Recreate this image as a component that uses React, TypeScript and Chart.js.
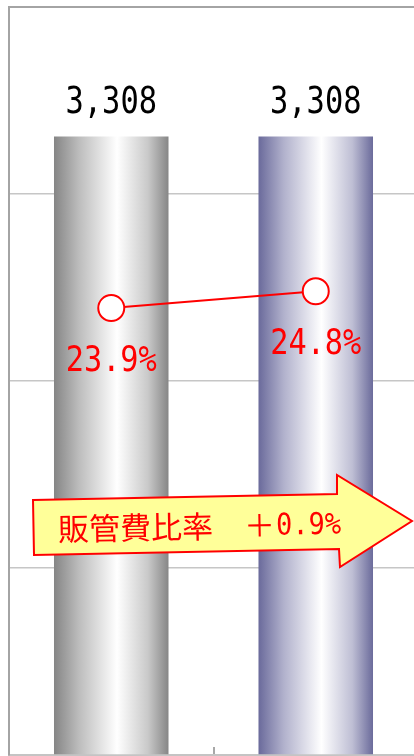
import React, { useEffect, useRef } from "react";
import { Chart, registerables } from "chart.js";

Chart.register(...registerables);

// ---- data ----
const categories = ["前期", "当期"];
const salesValues = [3308, 3308];
const ratioValues = [23.9, 24.8];
const salesAxis = { min: 0, max: 4000, step: 1000 };
const ratioAxis = { min: 0, max: 40 };
const arrowTitle = "販管費比率";

// ---- styles ----
const BAR_PCT = 0.56;
const grayStops: [number, string][] = [
  [0, "#858585"],
  [0.22, "#bdbdbd"],
  [0.55, "#ffffff"],
  [0.82, "#c9c9c9"],
  [1, "#868686"],
];
const blueStops: [number, string][] = [
  [0, "#6a6a9b"],
  [0.22, "#b1b1cc"],
  [0.55, "#ffffff"],
  [0.82, "#bebed4"],
  [1, "#6b6b9b"],
];
const barStops = [grayStops, blueStops];
const MONO = '"DejaVu Sans Mono", "Liberation Mono", monospace';

const labelPlugin = {
  id: "labelsAndArrow",
  afterDatasetsDraw(chart: any) {
    const ctx = chart.ctx as CanvasRenderingContext2D;
    // arrow annotation
    const pts = [
      [33, 500],
      [337, 494],
      [337, 475],
      [412, 521],
      [340, 567],
      [339, 549],
      [34, 555],
    ];
    ctx.save();
    ctx.beginPath();
    pts.forEach(([px, py], i) => (i === 0 ? ctx.moveTo(px, py) : ctx.lineTo(px, py)));
    ctx.closePath();
    ctx.fillStyle = "#ffff99";
    ctx.fill();
    ctx.strokeStyle = "#ff0000";
    ctx.lineWidth = 2;
    ctx.lineJoin = "miter";
    ctx.stroke();
    ctx.translate(58, 529);
    ctx.rotate(-0.019);
    ctx.fillStyle = "#ff0000";
    ctx.font = '31px "Noto Sans CJK JP"';
    ctx.textBaseline = "middle";
    ctx.textAlign = "left";
    const head = arrowTitle + "　＋";
    ctx.fillText(head, 0, 0);
    const w = ctx.measureText(head).width;
    const diff = (ratioValues[1] - ratioValues[0]).toFixed(1) + "%";
    ctx.translate(w + 1, 0);
    ctx.scale(0.9, 1);
    ctx.font = "30px " + MONO;
    ctx.textBaseline = "alphabetic";
    ctx.fillText(diff, 0, 10);
    ctx.restore();

    // bar value labels
    const barMeta = chart.getDatasetMeta(0);
    barMeta.data.forEach((el: any, i: number) => {
      ctx.save();
      ctx.translate(el.x, el.y - 23.5);
      ctx.scale(0.8, 1);
      ctx.font = "38px " + MONO;
      ctx.fillStyle = "#000";
      ctx.textAlign = "center";
      ctx.textBaseline = "alphabetic";
      ctx.fillText(salesValues[i].toLocaleString("en-US"), 0, 0);
      ctx.restore();
    });
    // ratio labels
    const lineMeta = chart.getDatasetMeta(1);
    lineMeta.data.forEach((el: any, i: number) => {
      ctx.save();
      ctx.translate(el.x, el.y + 63);
      ctx.scale(0.84, 1);
      ctx.font = "36px " + MONO;
      ctx.fillStyle = "#ff0000";
      ctx.textAlign = "center";
      ctx.textBaseline = "alphabetic";
      ctx.fillText(ratioValues[i].toFixed(1) + "%", 0, 0);
      ctx.restore();
    });
  },
};

export default function App() {
  const ref = useRef<HTMLCanvasElement | null>(null);
  useEffect(() => {
    document.body.style.margin = "0";
    const canvas = ref.current!;
    const chart = new Chart(canvas, {
      type: "bar",
      data: {
        labels: categories,
        datasets: [
          {
            type: "bar",
            data: salesValues,
            yAxisID: "y",
            order: 2,
            categoryPercentage: 1,
            barPercentage: BAR_PCT,
            borderWidth: 0,
            backgroundColor: (c: any) => {
              const x = c.chart.scales?.x;
              if (c.type !== "data" || !x || !x.width) return "#999";
              const cx = x.getPixelForValue(c.dataIndex);
              const half = ((x.width / categories.length) * BAR_PCT) / 2;
              const g = c.chart.ctx.createLinearGradient(cx - half, 0, cx + half, 0);
              barStops[c.dataIndex % barStops.length].forEach(([o, col]) => g.addColorStop(o, col));
              return g;
            },
          } as any,
          {
            type: "line",
            data: ratioValues,
            yAxisID: "y2",
            order: 1,
            borderColor: "#ff0000",
            borderWidth: 2,
            pointRadius: 13,
            pointHoverRadius: 13,
            pointBorderWidth: 2,
            pointBackgroundColor: "#ffffff",
            pointBorderColor: "#ff0000",
            tension: 0,
          } as any,
        ],
      },
      options: {
        responsive: false,
        animation: false,
        devicePixelRatio: 1,
        layout: { autoPadding: false, padding: { left: 9, right: 2, top: 7, bottom: 1 } },
        plugins: { legend: { display: false }, tooltip: { enabled: false } },
        scales: {
          x: {
            offset: true,
            ticks: { display: false },
            grid: {
              offset: true,
              drawOnChartArea: false,
              drawTicks: true,
              tickLength: -8,
              color: "#a8a8a8",
              tickColor: "#a8a8a8",
              lineWidth: 2,
            },
            border: { display: true, color: "#c4c4c4", width: 2 },
          },
          y: {
            min: salesAxis.min,
            max: salesAxis.max,
            ticks: { display: false, stepSize: salesAxis.step },
            grid: {
              drawTicks: false,
              color: (c: any) => (c.tick && c.tick.value === salesAxis.max ? "#a4a4a4" : "#c6c6c6"),
              lineWidth: (c: any) => (c.tick && c.tick.value === salesAxis.max ? 2 : 1.5),
            },
            border: { display: true, color: "#a4a4a4", width: 2 },
          },
          y2: {
            display: false,
            min: ratioAxis.min,
            max: ratioAxis.max,
          },
        },
      },
      plugins: [labelPlugin],
    });
    return () => chart.destroy();
  }, []);
  return (
    <div style={{ width: 414, height: 756, overflow: "hidden", position: "relative" }}>
      <canvas ref={ref} width={420} height={756} style={{ display: "block", width: 420, height: 756 }} />
    </div>
  );
}
